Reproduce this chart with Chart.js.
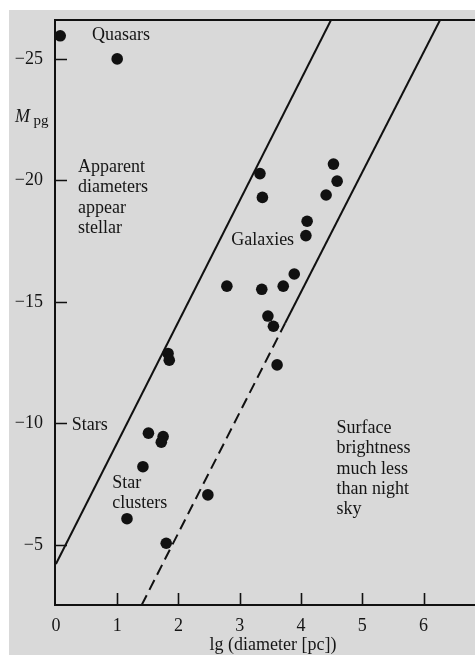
<!DOCTYPE html>
<html>
<head>
<meta charset="utf-8">
<script src="https://cdn.jsdelivr.net/npm/chart.js@4/dist/chart.umd.min.js"></script>
<style>
  html, body { margin: 0; padding: 0; background: #ffffff; }
  canvas { display: block; }
</style>
</head>
<body>
<canvas id="chart" width="475" height="655"></canvas>
<script>
// Absolute photographic magnitude against log diameter (pc)
const quasarLg = [0.07, 1.00];
const quasarM  = [-25.95, -25.0];

const galaxyLg = [2.79, 3.33, 3.37, 4.53, 4.59, 4.41, 4.10, 4.08, 3.89, 3.71, 3.36, 3.46, 3.55, 3.61];
const galaxyM  = [-15.65, -20.28, -19.30, -20.67, -19.97, -19.40, -18.32, -17.73, -16.15, -15.65, -15.52, -14.42, -14.00, -12.41];

const clusterLg = [1.83, 1.85, 1.51, 1.75, 1.72, 1.42, 2.48, 1.16, 1.80];
const clusterM  = [-12.88, -12.60, -9.60, -9.46, -9.23, -8.22, -7.06, -6.08, -5.07];

// Boundary lines of constant surface brightness
const stellarEdgeLg = [0, 4.49];
const stellarEdgeM  = [-4.22, -26.6];
const skyEdgeLg     = [3.74, 6.27];
const skyEdgeM      = [-14.12, -26.6];
const skyEdgeDashLg = [1.40, 3.74];
const skyEdgeDashM  = [-2.53, -14.12];

const xTicks = [0, 1, 2, 3, 4, 5, 6];
const yTicks = [-25, -20, -15, -10, -5];

// Region labels: anchor (lg, M) is the left end of the first line's baseline
const regionLabels = [
  { lg: 0.59, M: -25.78, lines: ['Quasars'] },
  { lg: 0.36, M: -20.34, lines: ['Apparent', 'diameters', 'appear', 'stellar'] },
  { lg: 2.86, M: -17.34, lines: ['Galaxies'] },
  { lg: 0.26, M: -9.73,  lines: ['Stars'] },
  { lg: 0.92, M: -7.34,  lines: ['Star', 'clusters'] },
  { lg: 4.58, M: -9.60,  lines: ['Surface', 'brightness', 'much less', 'than night', 'sky'] }
];

const INK = '#111111';
const TEXT = '#151515';
const SERIF = '"Liberation Serif", "DejaVu Serif", serif';

const pts = (xs, ys) => xs.map((x, i) => ({ x: x, y: ys[i] }));

const dotStyle = {
  showLine: false,
  pointRadius: 5.8,
  pointHoverRadius: 5.8,
  pointBackgroundColor: INK,
  pointBorderColor: INK,
  pointBorderWidth: 0
};
const lineStyle = {
  showLine: true,
  borderColor: INK,
  borderWidth: 2,
  pointRadius: 0,
  pointHoverRadius: 0,
  fill: false
};

const framePlugin = {
  id: 'frame',
  beforeDraw(chart) {
    const ctx = chart.ctx;
    ctx.save();
    ctx.fillStyle = '#ffffff';
    ctx.fillRect(0, 0, chart.width, chart.height);
    ctx.fillStyle = '#d9d9d9';
    ctx.fillRect(9, 10, chart.width - 9, chart.height - 10);
    ctx.restore();
  },
  afterDatasetsDraw(chart) {
    const ctx = chart.ctx;
    const a = chart.chartArea;
    const xs = chart.scales.x, ys = chart.scales.y;
    ctx.save();
    ctx.strokeStyle = INK;
    ctx.lineWidth = 2;
    ctx.beginPath();
    ctx.moveTo(a.right, a.top);
    ctx.lineTo(a.left, a.top);
    ctx.lineTo(a.left, a.bottom);
    ctx.lineTo(a.right, a.bottom);
    ctx.stroke();
    // inward tick marks
    ctx.lineWidth = 1.6;
    ctx.beginPath();
    xTicks.forEach(v => {
      if (v === 0) return;
      const px = Math.round(xs.getPixelForValue(v)) + 0.5;
      ctx.moveTo(px, a.bottom);
      ctx.lineTo(px, a.bottom - 12);
    });
    yTicks.forEach(v => {
      const py = Math.round(ys.getPixelForValue(v)) + 0.5;
      ctx.moveTo(a.left, py);
      ctx.lineTo(a.left + 12, py);
    });
    ctx.stroke();

    // region labels
    ctx.fillStyle = TEXT;
    ctx.font = '18px ' + SERIF;
    ctx.textAlign = 'left';
    ctx.textBaseline = 'alphabetic';
    regionLabels.forEach(r => {
      const px = xs.getPixelForValue(r.lg);
      const py = ys.getPixelForValue(r.M);
      r.lines.forEach((t, i) => ctx.fillText(t, px, py + i * 20.3));
    });

    // axis titles
    ctx.font = 'italic 18px ' + SERIF;
    ctx.fillText('M', 15, 122);
    ctx.font = '15px ' + SERIF;
    ctx.fillText('pg', 33.5, 125);
    ctx.font = '18px ' + SERIF;
    ctx.textAlign = 'center';
    ctx.fillText('lg (diameter [pc])', 273, 650);
    ctx.restore();
  }
};

new Chart(document.getElementById('chart'), {
  type: 'scatter',
  data: {
    datasets: [
      Object.assign({ label: 'Quasars', data: pts(quasarLg, quasarM) }, dotStyle),
      Object.assign({ label: 'Galaxies', data: pts(galaxyLg, galaxyM) }, dotStyle),
      Object.assign({ label: 'Star clusters', data: pts(clusterLg, clusterM) }, dotStyle),
      Object.assign({ label: 'Stellar limit', data: pts(stellarEdgeLg, stellarEdgeM) }, lineStyle),
      Object.assign({ label: 'Night-sky limit', data: pts(skyEdgeLg, skyEdgeM) }, lineStyle),
      Object.assign({ label: 'Night-sky limit (extrapolated)', data: pts(skyEdgeDashLg, skyEdgeDashM), borderDash: [11, 6] }, lineStyle)
    ]
  },
  options: {
    responsive: false,
    devicePixelRatio: 1,
    animation: false,
    layout: { autoPadding: false, padding: { top: 20, right: 0, left: 0, bottom: 0 } },
    plugins: {
      legend: { display: false },
      tooltip: { enabled: false },
      title: { display: false }
    },
    scales: {
      x: {
        type: 'linear',
        position: 'bottom',
        min: -0.015,
        max: 6.84,
        afterFit(s) { s.height = 50; s.paddingLeft = 0; s.paddingRight = 0; },
        afterBuildTicks(s) { s.ticks = xTicks.map(v => ({ value: v })); },
        grid: { display: false, drawTicks: false },
        border: { display: false },
        ticks: {
          padding: 10,
          color: TEXT,
          font: { family: SERIF, size: 18 },
          maxRotation: 0,
          autoSkip: false,
          callback: v => String(v)
        }
      },
      y: {
        type: 'linear',
        position: 'left',
        reverse: true,
        min: -26.6,
        max: -2.53,
        afterFit(s) { s.width = 55; s.paddingTop = 0; s.paddingBottom = 0; },
        afterBuildTicks(s) { s.ticks = yTicks.map(v => ({ value: v })); },
        grid: { display: false, drawTicks: false },
        border: { display: false },
        ticks: {
          padding: 12,
          color: TEXT,
          font: { family: SERIF, size: 18 },
          autoSkip: false,
          callback: v => '\u2212' + Math.abs(v)
        }
      }
    }
  },
  plugins: [framePlugin]
});
</script>
</body>
</html>
